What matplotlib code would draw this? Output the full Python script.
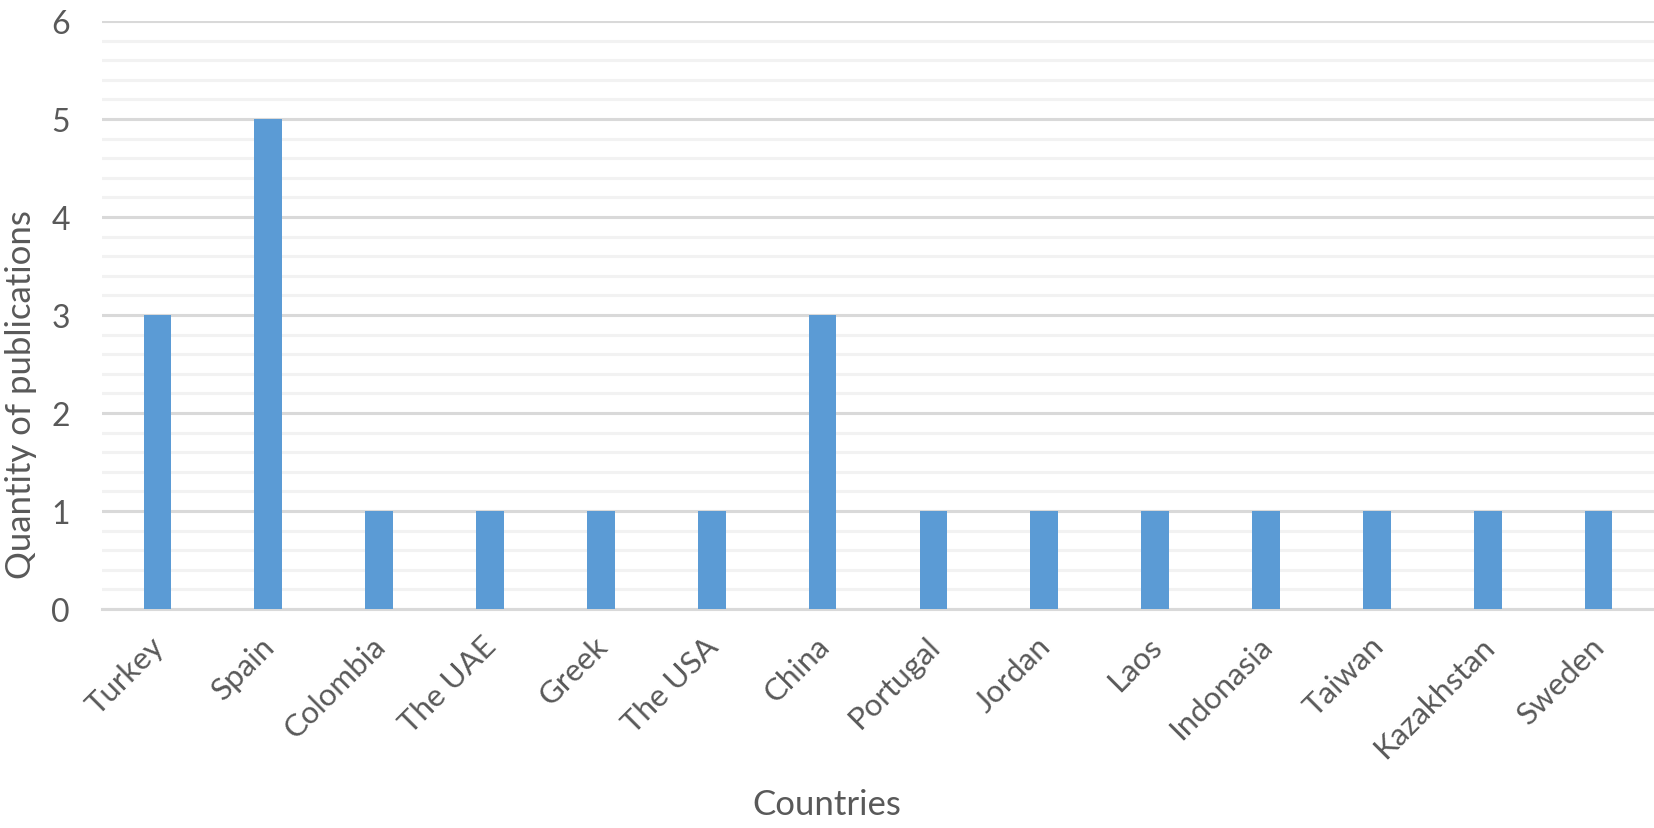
import numpy as np
import matplotlib.pyplot as plt
from matplotlib.ticker import MultipleLocator
import matplotlib.transforms as mtransforms

# data
countries = ['Turkey', 'Spain', 'Colombia', 'The UAE', 'Greek', 'The USA', 'China',
             'Portugal', 'Jordan', 'Laos', 'Indonasia', 'Taiwan', 'Kazakhstan', 'Sweden']
publications = [3, 5, 1, 1, 1, 1, 3, 1, 1, 1, 1, 1, 1, 1]

plt.rcParams['font.family'] = ['Lato', 'DejaVu Sans']
text_color = '#595959'

fig = plt.figure(figsize=(16.54, 8.29), dpi=100)
ax = fig.add_axes([0.0617, 0.2642, 0.9383, 0.7093])

x = np.arange(len(countries))
ax.bar(x, publications, width=0.25, color='#5B9BD5', zorder=3)

ax.set_xlim(-0.5, len(countries) - 0.5)
ax.set_ylim(0, 6)
ax.yaxis.set_major_locator(MultipleLocator(1))
ax.yaxis.set_minor_locator(MultipleLocator(0.2))
ax.grid(which='major', axis='y', color='#D9D9D9', linewidth=2.2, zorder=1)
ax.grid(which='minor', axis='y', color='#F2F2F2', linewidth=2.2, zorder=0)
ax.set_axisbelow(True)

for s in ax.spines.values():
    s.set_visible(False)
ax.axhline(0, color='#D9D9D9', linewidth=2.2, zorder=2, clip_on=False)

ax.set_xticks(x)
ax.set_xticklabels(countries, rotation=45, ha='right', rotation_mode='anchor')
ax.tick_params(axis='x', length=0, pad=16, labelsize=22.5, labelcolor=text_color)
ax.tick_params(axis='y', which='both', length=0, pad=23, labelsize=23, labelcolor=text_color)
# nudge the category labels a little to the left
shift = mtransforms.ScaledTranslation(-8 / 100, 0, fig.dpi_scale_trans)
for lbl in ax.get_xticklabels():
    lbl.set_transform(lbl.get_transform() + shift)

fig.text(0.0127, 0.5235, 'Quantity of publications', rotation=90, ha='center', va='center',
         fontsize=25, color=text_color)
fig.text(0.5, 0.017, 'Countries', ha='center', va='baseline', fontsize=25, color=text_color)

plt.savefig('out.png', dpi=100)
